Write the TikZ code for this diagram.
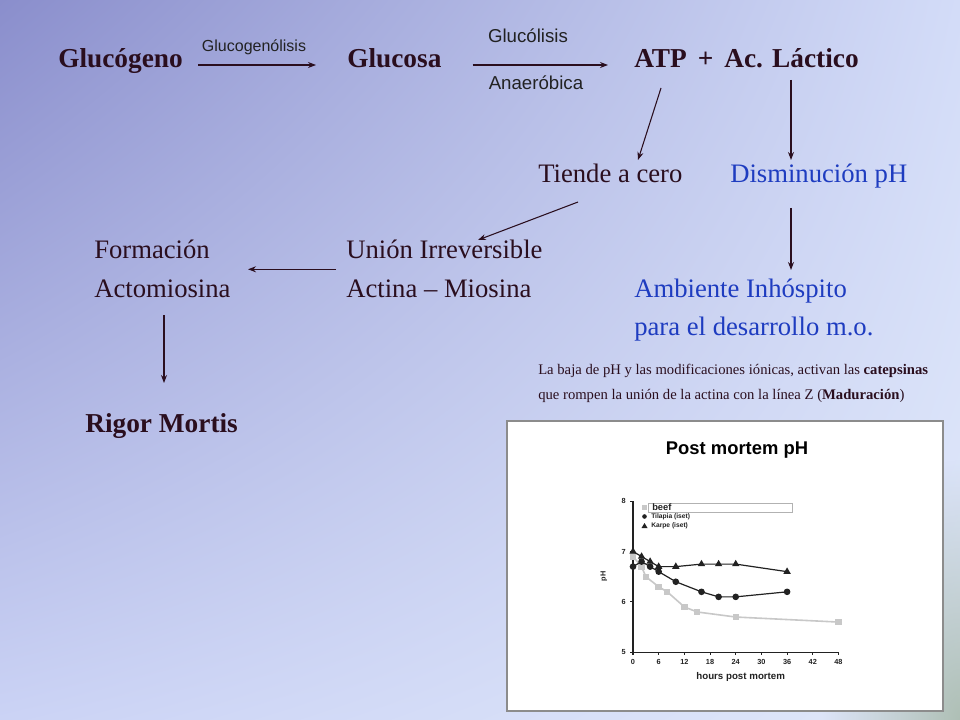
\documentclass[tikz,border=0pt]{standalone}
\usepackage{fontspec}
\setmainfont{Liberation Serif}
\setsansfont{Liberation Sans}
\usetikzlibrary{arrows.meta,calc,plotmarks,shadings,fadings}
\definecolor{bgUL}{HTML}{8A8ECC}
\definecolor{bgUR}{HTML}{D3DCF8}
\definecolor{bgLL}{HTML}{CBD3F5}
\definecolor{bgLR}{HTML}{E0E8FA}
\definecolor{cornergreen}{HTML}{A2B5A4}
\definecolor{ink}{HTML}{2A0E1E}
\definecolor{blueink}{HTML}{1E3CC0}
\definecolor{beefgray}{HTML}{C8C8C8}
\definecolor{plotink}{HTML}{222222}
\definecolor{frame}{HTML}{8C8C8C}
\tikzfading[name=cornerfade, inner color=transparent!0, outer color=transparent!100]
\begin{document}
\begin{tikzpicture}[x=0.75pt,y=-0.75pt,
  txt/.style={inner sep=0pt, anchor=base west, text=ink, font=\fontsize{20}{24}\selectfont},
  bl/.style={txt, text=blueink},
  hd/.style={txt, font=\fontsize{20.5}{24}\selectfont\bfseries},
  lbl/.style={inner sep=0pt, anchor=base, text=plotink, font=\sffamily\fontsize{14}{16}\selectfont},
  smalllbl/.style={lbl, font=\sffamily\fontsize{12}{14}\selectfont},
  note/.style={txt, font=\fontsize{11}{13}\selectfont},
  arr/.style={draw=ink, line width=0.8pt, -{Stealth[length=6pt,width=4.5pt]}},
  axis/.style={draw=plotink, line width=1.1pt},
  ticklbl/.style={inner sep=0pt, text=plotink, font=\sffamily\bfseries\fontsize{5.5}{6}\selectfont},
  leglbl/.style={inner sep=0pt, anchor=west, text=plotink, font=\sffamily\bfseries\fontsize{5}{6}\selectfont}
]
\useasboundingbox (0,0) rectangle (960,720);
\shade[upper left=bgUL, upper right=bgUR, lower left=bgLL, lower right=bgLR] (0,0) rectangle (960,720);
\begin{scope}
  \clip (0,0) rectangle (960,720);
  \fill[cornergreen, opacity=0.8, path fading=cornerfade] (960,720) ellipse (140 and 260);
\end{scope}

% row 1
\node[hd] (gno) at (58,67.5) {Glucógeno};
\node[hd] (gsa) at (347,67.5) {Glucosa};
\node[hd] (atp) at (634,67.5) {ATP\hspace{0.4em}+\hspace{0.4em}Ac. Láctico};
\node[smalllbl] (glgn) at (254,52) {Glucogenólisis};
\node[lbl] (glis) at (528,43) {Glucólisis};
\node[lbl] (anae) at (536,90) {Anaeróbica};

% row 2
\node[txt] (tiende) at (538,182.5) {Tiende a cero};
\node[bl] (dism) at (730,182.5) {Disminución pH};

% rows 3-4
\node[txt] (form) at (94,259) {Formación};
\node[txt] (acto) at (94,297) {Actomiosina};
\node[txt] (union) at (346,259) {Unión Irreversible};
\node[txt] (actina) at (346,297) {Actina – Miosina};
\node[bl] (amb) at (634,297) {Ambiente Inhóspito};
\node[bl] (para) at (634,335) {para el desarrollo m.o.};

% note
\node[note] (note1) at (538,374) {La baja de pH y las modificaciones iónicas, activan las \textbf{catepsinas}};
\node[note] (note2) at (538,399) {que rompen la unión de la actina con la línea Z (\textbf{Maduración})};

\node[hd] (rigor) at (85,432.5) {Rigor Mortis};

% arrows
\draw[arr] ($(gno.base east)+(15,-2.5)$) -- ($(gsa.base west)+(-31,-2.5)$);
\draw[arr] ($(gsa.base east)+(31,-2.5)$) -- ($(atp.base west)+(-26,-2.5)$);
\draw[arr] ($(atp.base west)+(27,20.5)$) -- ($(tiende.base west)+(100,-22.5)$);
\draw[arr] ($(atp.base west)+(157,12.5)$) -- ($(dism.base west)+(61,-22.5)$);
\draw[arr] ($(tiende.base west)+(40,19.5)$) -- ($(union.base west)+(132,-19)$);
\draw[arr] ($(dism.base west)+(61,25.5)$) -- ($(amb.base west)+(157,-27)$);
\draw[arr] ($(union.base west)+(-10,10.3)$) -- ($(form.base west)+(154,10.3)$);
\draw[arr] ($(acto.base west)+(70,18)$) -- ($(rigor.base west)+(79,-49.5)$);

% chart
\draw[draw=frame, line width=1.4pt, fill=white] (507,421) rectangle (943,711);
\node[inner sep=0pt, text=black, font=\sffamily\bfseries\fontsize{13.8}{16}\selectfont] (ptitle) at (737,450) {Post mortem pH};
\node[inner sep=0pt, text=plotink, font=\sffamily\bfseries\fontsize{7.3}{9}\selectfont] (xlab) at (740.7,677) {hours post mortem};

\begin{scope}[shift={(633,652.3)}, x=3.21pt, y=37.8pt]
  \draw[axis] (0,3) -- (0,0) -- (48,0);
  \foreach \t in {0,6,...,48} {
    \draw[axis, line width=0.8pt] (\t,0) -- (\t,-0.05);
    \node[ticklbl] (xt\t) at (\t,-0.2) {\t};
  }
  \foreach \p in {5,6,7,8} {
    \draw[axis, line width=0.8pt] (0,\p-5) -- (-0.7,\p-5);
    \node[ticklbl] (yt\p) at (-2.2,\p-5) {\p};
  }
  \node[inner sep=0pt, rotate=90, text=plotink, font=\sffamily\bfseries\fontsize{5.5}{6}\selectfont] (ylab) at (-6.8,1.51) {pH};
  \draw[beefgray, line width=1.2pt] plot[mark=square*, mark size=1.8pt, mark options={fill=beefgray,draw=beefgray}]
    coordinates {(0,1.9) (2,1.7) (3,1.5) (6,1.3) (8,1.2) (12,0.9) (15,0.8) (24,0.7) (48,0.6)};
  \draw[plotink, line width=0.9pt] plot[mark=*, mark size=2pt]
    coordinates {(0,1.7) (2,1.8) (4,1.7) (6,1.6) (10,1.4) (16,1.2) (20,1.1) (24,1.1) (36,1.2)};
  \draw[plotink, line width=0.9pt] plot[mark=triangle*, mark size=2.3pt]
    coordinates {(0,2.0) (2,1.9) (4,1.8) (6,1.7) (10,1.7) (16,1.75) (20,1.75) (24,1.75) (36,1.6)};
\end{scope}

% legend
\draw[gray!60, line width=0.6pt] (648,503) rectangle (792,512);
\node[inner sep=0pt, anchor=west, text=plotink, font=\sffamily\bfseries\fontsize{7}{8}\selectfont] (lbeef) at (652,507.5) {beef};
\node[leglbl] (ltil) at (651,517) {Tilapia (iset)};
\node[leglbl] (lkar) at (651,526) {Karpe (iset)};
\fill[beefgray] (641.5,504.5) rectangle (646.5,509.5);
\fill[plotink] (644.5,516.5) circle (2.3);
\fill[plotink] (644.5,523) -- (647.5,528) -- (641.5,528) -- cycle;
\end{tikzpicture}
\end{document}
